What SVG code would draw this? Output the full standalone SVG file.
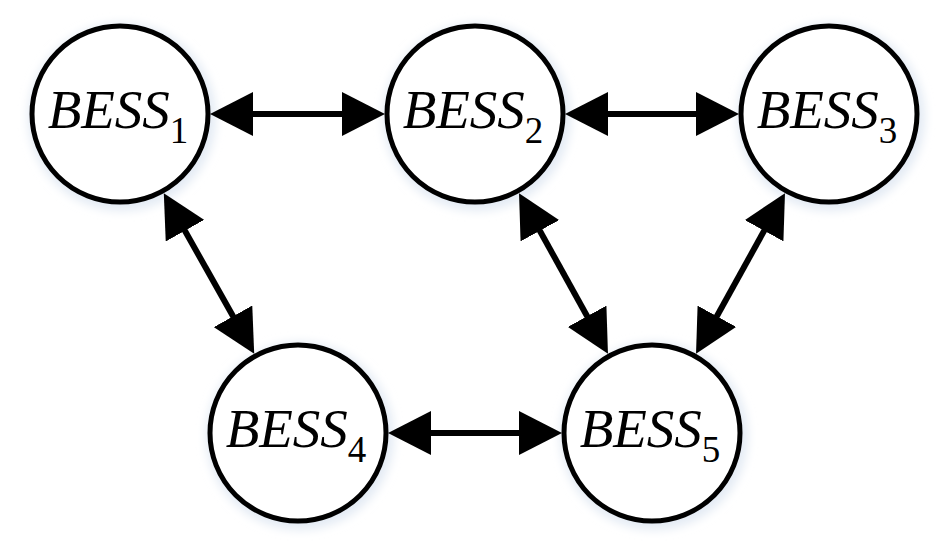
<svg xmlns="http://www.w3.org/2000/svg" width="942" height="545" viewBox="0 0 942 545">
<style>
.halo{fill:#e4ebf4;filter:url(#blur)}
.node{fill:#ffffff;stroke:#000000;stroke-width:5}
.conn{stroke:#000;stroke-width:6;fill:none;marker-start:url(#ah);marker-end:url(#ah)}
</style>
<defs>
<filter id="blur" x="-30%" y="-30%" width="160%" height="160%"><feGaussianBlur stdDeviation="5"/></filter>
<marker id="ah" markerUnits="userSpaceOnUse" viewBox="0 -22 43 44" refX="10" refY="0" markerWidth="43" markerHeight="44" orient="auto-start-reverse">
<path d="M0,-22 L43,0 L0,22 z" fill="#000"/>
</marker>
</defs>
<g id="n1"><circle class="halo" cx="122" cy="117" r="94"/><circle class="node" cx="120" cy="114" r="88"/><text font-family="Liberation Serif" font-style="italic" font-size="55" x="118" y="128" text-anchor="middle">BESS<tspan font-style="normal" font-size="37" dy="15">1</tspan></text></g>
<g id="n2"><circle class="halo" cx="477" cy="117" r="94"/><circle class="node" cx="475" cy="114" r="88"/><text font-family="Liberation Serif" font-style="italic" font-size="55" x="473" y="128" text-anchor="middle">BESS<tspan font-style="normal" font-size="37" dy="15">2</tspan></text></g>
<g id="n3"><circle class="halo" cx="831" cy="117" r="94"/><circle class="node" cx="829" cy="114" r="88"/><text font-family="Liberation Serif" font-style="italic" font-size="55" x="827" y="128" text-anchor="middle">BESS<tspan font-style="normal" font-size="37" dy="15">3</tspan></text></g>
<g id="n4"><circle class="halo" cx="300" cy="436" r="94"/><circle class="node" cx="298" cy="433" r="88"/><text font-family="Liberation Serif" font-style="italic" font-size="55" x="296" y="447" text-anchor="middle">BESS<tspan font-style="normal" font-size="37" dy="15">4</tspan></text></g>
<g id="n5"><circle class="halo" cx="654" cy="436" r="94"/><circle class="node" cx="652" cy="433" r="88"/><text font-family="Liberation Serif" font-style="italic" font-size="55" x="650" y="447" text-anchor="middle">BESS<tspan font-style="normal" font-size="37" dy="15">5</tspan></text></g>
<g id="connectors">
<line class="conn" x1="243" y1="114" x2="352" y2="114"/>
<line class="conn" x1="598" y1="114" x2="706" y2="114"/>
<line class="conn" x1="421" y1="433" x2="529" y2="433"/>
<line class="conn" x1="180" y1="222" x2="238" y2="325"/>
<line class="conn" x1="535" y1="222" x2="592" y2="325"/>
<line class="conn" x1="769" y1="222" x2="712" y2="325"/>
</g>
</svg>
